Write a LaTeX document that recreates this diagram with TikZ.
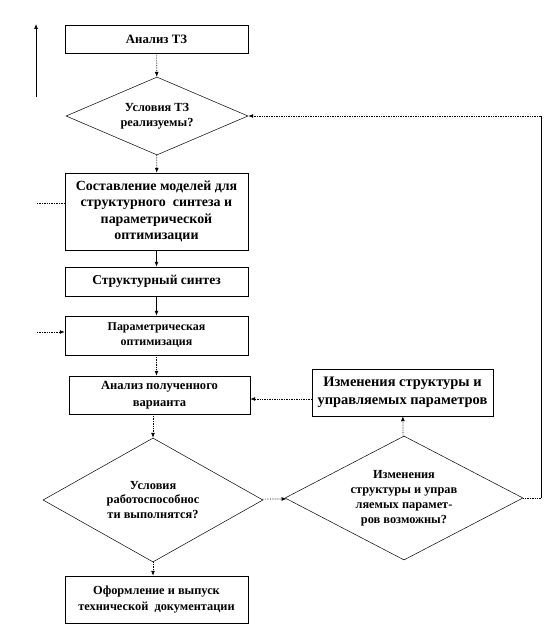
\documentclass[tikz,border=0pt]{standalone}
\usepackage{fontspec}
\setmainfont{Liberation Serif}
\usetikzlibrary{positioning, arrows.meta, shapes.geometric, calc}

\newcommand{\fs}[2]{\bfseries\fontsize{#1}{#2}\selectfont}

\begin{document}
\begin{tikzpicture}[x=1bp, y=-1bp,
	box/.style={draw, line width=0.5bp, align=center, inner sep=0pt, minimum width=183bp, font=\fs{12.6}{16.5}},
	decision/.style={draw, line width=0.5bp, diamond, align=center, inner sep=0pt, font=\fs{12.4}{15}},
	flow/.style={line width=0.7bp, -{Latex[length=5pt, width=4pt]}},
	dflow/.style={flow, densely dotted}]
	\useasboundingbox (0,0) rectangle (544,628);

	% Boxes
	\node[box, minimum height=28bp, font=\fs{12.8}{16.5}] (tz) at (156.5,39) {Анализ ТЗ};
	\node[decision, shape aspect=2.33, minimum width=182bp, minimum height=78bp] (real) at (157,116) {Условия ТЗ\\реализуемы?};
	\node[box, minimum height=77bp, font=\fs{14}{16.5}] (models) at (156.5,211.5) {Составление моделей для\\структурного\ \ синтеза и\\параметрической\\оптимизации};
	\node[box, minimum height=29bp, font=\fs{13.6}{16.5}] (struct) at (156.5,281.5) {Структурный синтез};
	\node[box, minimum height=39bp, font=\fs{12}{15}] (param) at (156.5,335.5) {Параметрическая\\оптимизация};
	\node[box, minimum width=181bp, minimum height=38bp] (anal) at (159.5,395) {Анализ полученного\\варианта};
	\node[box, minimum width=181bp, minimum height=47bp, font=\fs{14.5}{18}] (change) at (402.5,392.5) {Изменения структуры и\\управляемых параметров};
	\node[decision, shape aspect=1.77, minimum width=220bp, minimum height=124bp] (work) at (153,500) {Условия\\работоспособнос\\ти выполнятся?};
	\node[decision, shape aspect=1.92, minimum width=238bp, minimum height=124bp] (poss) at (404,498) {Изменения\\структуры и управ\\ляемых парамет-\\ров возможны?};
	\node[box, minimum height=47bp, font=\fs{12.4}{16.5}] (docs) at (156.5,599.5) {Оформление и выпуск\\технической\ \ документации};

	% Connectors
	\draw[dflow] (tz) -- (real);
	\draw[dflow] (real) -- (models);
	\draw[flow] (models) -- (struct);
	\draw[flow] (struct) -- (param);
	\draw[dflow] (param.south) -- (param.south |- anal.north);
	\draw[dflow] (anal.south -| work.north) -- (work.north);
	\draw[dflow] (work.south) -- (work.south |- docs.north);
	\draw[dflow] (work) -- (poss);
	\draw[dflow] (poss) -- (change);
	\draw[dflow] (change.west |- 0,399) -- (anal.east |- 0,399);

	% Loop back to the first decision
	\coordinate (rb) at (541,498);
	\coordinate (rt) at (541,116);
	\draw[line width=0.7bp, densely dotted] (poss.east) -- (rb);
	\draw[line width=0.7bp] (rb) -- (rt);
	\draw[dflow] (rt) -- (real.east);

	% Left stubs
	\coordinate (l1) at (36,97);
	\coordinate (l2) at (36,24);
	\coordinate (l3) at (37,203);
	\coordinate (l4) at (37,332);
	\draw[flow] (l1) -- (l2);
	\draw[line width=0.7bp, densely dotted] (l3) -- (models.west |- l3);
	\draw[dflow] (l4) -- (param.west |- l4);
\end{tikzpicture}
\end{document}
